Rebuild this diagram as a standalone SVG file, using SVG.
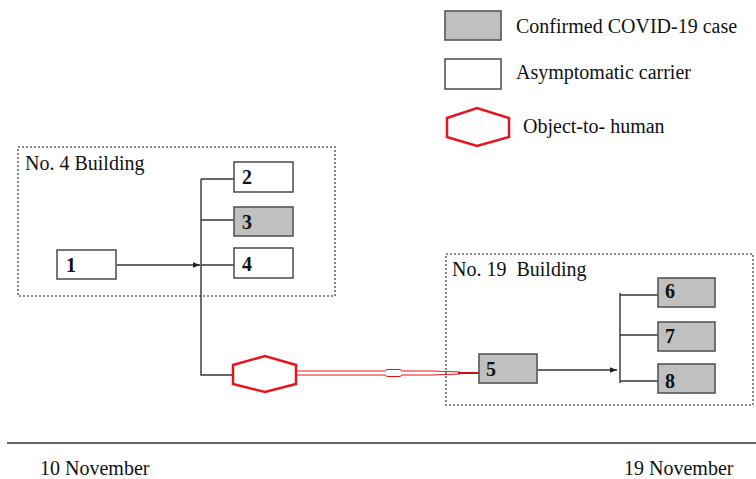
<svg xmlns="http://www.w3.org/2000/svg" width="756" height="479" viewBox="0 0 756 479">
<defs>
<style>
.t{font-family:"Liberation Serif",serif;font-size:20px;fill:#111;white-space:pre}
.n{font-family:"Liberation Serif",serif;font-size:20px;font-weight:bold;fill:#111}
.box{stroke:#555;stroke-width:1.6;fill:#fff}
.g{fill:#c0c0c0}
.area{fill:none;stroke:#666;stroke-width:1.6;stroke-dasharray:2 2}
.ln{stroke:#333;stroke-width:1.4;fill:none}
.hex{fill:#fff;stroke:#e8141c;stroke-width:2.5}
.rl{stroke:#e8141c;stroke-width:1;fill:none}
</style>
<marker id="ah" viewBox="0 0 10 10" refX="10" refY="5" markerWidth="7" markerHeight="7" orient="auto" markerUnits="userSpaceOnUse">
<path d="M0,1 L10,5 L0,9 z" fill="#222"/>
</marker>
</defs>
<rect width="756" height="479" fill="#fff"/>
<g id="legend">
<rect class="box g" x="445" y="11" width="56" height="29"/>
<text class="t" x="516" y="33">Confirmed COVID-19 case</text>
<rect class="box" x="445" y="59" width="56" height="30"/>
<text class="t" x="516" y="79">Asymptomatic carrier</text>
<polygon class="hex" points="447,118 477,108 509,118 509,137 477,146 447,137"/>
<text class="t" x="523" y="133">Object-to- human</text>
</g>
<g id="building4">
<rect class="area" x="18" y="147" width="317" height="149"/>
<text class="t" x="25" y="170">No. 4 Building</text>
</g>
<g id="building19">
<rect class="area" x="446" y="254" width="307" height="151"/>
<text class="t" x="452" y="276">No. 19  Building</text>
</g>
<g id="connectors">
<line class="ln" x1="117" y1="265" x2="200" y2="265" marker-end="url(#ah)"/>
<polyline class="ln" points="201,179 201,375 232,375"/>
<line class="ln" x1="201" y1="179" x2="234" y2="179"/>
<line class="ln" x1="201" y1="220" x2="234" y2="220"/>
<line class="ln" x1="201" y1="265" x2="234" y2="265"/>
<polyline class="rl" points="297,371 385,371 387,369.5 400,369.5 402,371 432,371 460,372"/>
<polyline class="rl" points="297,375 385,375 387,376.5 400,376.5 402,375 432,375 460,374"/>
<line x1="458" y1="373" x2="479" y2="373" stroke="#c0101a" stroke-width="2"/>
<line class="ln" x1="538" y1="370" x2="617" y2="370" marker-end="url(#ah)"/>
<line class="ln" x1="620" y1="293" x2="620" y2="383"/>
<line class="ln" x1="620" y1="295" x2="658" y2="295"/>
<line class="ln" x1="620" y1="335" x2="658" y2="335"/>
<line class="ln" x1="620" y1="381" x2="658" y2="381"/>
</g>
<g id="n1"><rect class="box" x="57" y="250" width="59" height="29"/><text class="n" x="66" y="272">1</text></g>
<g id="n2"><rect class="box" x="234" y="162" width="59" height="30"/><text class="n" x="242" y="184">2</text></g>
<g id="n3"><rect class="box g" x="234" y="207" width="59" height="29"/><text class="n" x="242" y="229">3</text></g>
<g id="n4"><rect class="box" x="234" y="248" width="59" height="30"/><text class="n" x="242" y="271">4</text></g>
<g id="obj"><polygon class="hex" points="233,365 265,356 296,365 296,384 265,392 233,384"/></g>
<g id="n5"><rect class="box g" x="479" y="354" width="58" height="29"/><text class="n" x="486" y="376">5</text></g>
<g id="n6"><rect class="box g" x="658" y="278" width="57" height="29"/><text class="n" x="665" y="298">6</text></g>
<g id="n7"><rect class="box g" x="658" y="322" width="57" height="29"/><text class="n" x="665" y="343">7</text></g>
<g id="n8"><rect class="box g" x="658" y="364" width="57" height="29"/><text class="n" x="665" y="388">8</text></g>
<g id="timeline">
<line x1="7" y1="443" x2="756" y2="443" stroke="#666" stroke-width="2"/>
<text class="t" x="40" y="475">10 November</text>
<text class="t" x="624" y="475">19 November</text>
</g>
</svg>
